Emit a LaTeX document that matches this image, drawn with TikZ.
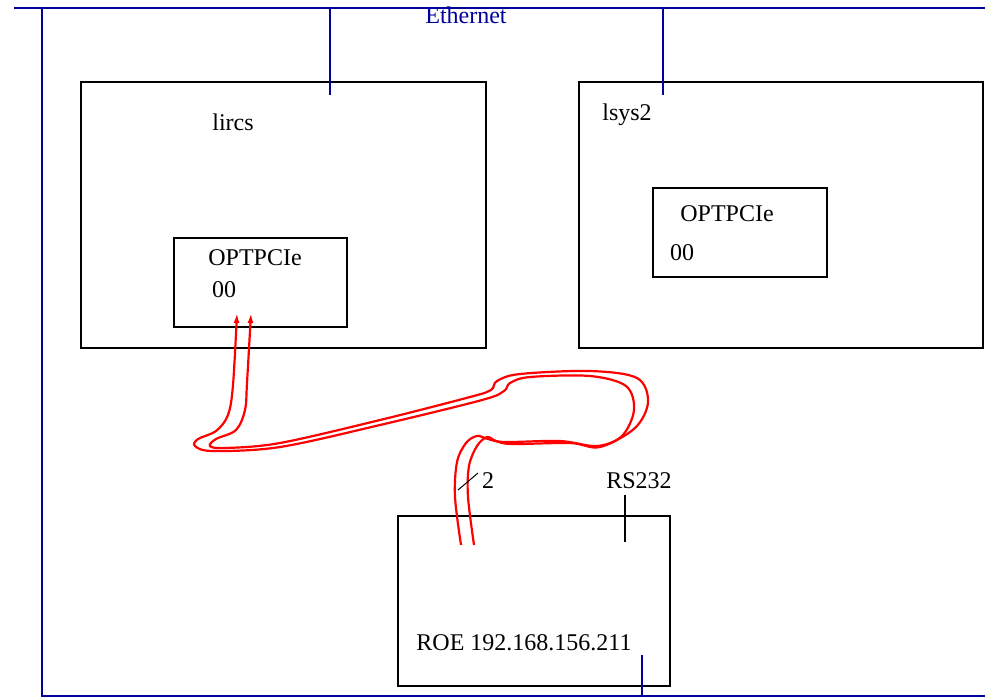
\documentclass[tikz,border=0pt]{standalone}
\usepackage{fontspec}
\setmainfont{Liberation Serif}
\usepackage{tikz}
\usetikzlibrary{arrows.meta,positioning,fit,calc}
\definecolor{ethblue}{HTML}{00009C}
\definecolor{cablered}{HTML}{FF0000}
\tikzset{
  hostbox/.style={
    rectangle, draw=black, line width=1.25pt, inner sep=0pt
  },
  ether/.style={
    draw=ethblue, line width=1.25pt
  },
  cable/.style={
    draw=cablered, line width=1.1pt, -{Latex[length=5pt,width=3pt]}
  },
  lbl/.style={
    font=\fontsize{12}{14}\selectfont, inner sep=0pt, anchor=base
  },
}
\begin{document}
\begin{tikzpicture}[x=0.5pt, y=-0.5pt]
    \useasboundingbox (0,0) rectangle (985,698);
    % hosts
    \node[hostbox, fit={(81,82) (486,348)}] (lircs) {};
    \node[hostbox, fit={(579,82) (983,348)}] (lsys) {};
    \node[hostbox, fit={(174,238) (347,327)}] (cardA) {};
    \node[hostbox, fit={(653,188) (827,277)}] (cardB) {};
    \node[hostbox, fit={(398,516) (670,686)}] (roe) {};
    \node[lbl] at (233,130) {lircs};
    \node[lbl] at (627,120) {lsys2};
    \node[lbl] at (255,265) {OPTPCIe};
    \node[lbl] at (224,297) {00};
    \node[lbl] at (727,221) {OPTPCIe};
    \node[lbl] at (682,260) {00};
    \node[lbl] at (524,650) {ROE 192.168.156.211};
    % ethernet
    \draw[ether] (14,8) -- (985,8);
    \draw[ether] (42,8) -- (42,696) -- (985,696);
    \node[lbl, text=ethblue] at (466,23) {Ethernet};
    \coordinate (tapA) at (330,8);
    \coordinate (tapB) at (663,8);
    \coordinate (tapC) at (642,696);
    \draw[ether] (tapA) -- ($(tapA |- lircs.north)+(0,14)$);
    \draw[ether] (tapB) -- ($(tapB |- lsys.north)+(0,14)$);
    \draw[ether] (tapC) -- ++(0,-41);
    % rs232
    \coordinate (rs) at (625,495);
    \draw[line width=1.25pt] (rs) -- ($(rs |- roe.north)+(0,27)$);
    \node[lbl] at (639,488) {RS232};
    % optical link
    \coordinate (roeA) at (461,545);
    \coordinate (roeB) at (474,545);
    \coordinate (optA) at (237,313);
    \coordinate (optB) at (251,313);
    \draw[cable] plot[smooth, tension=0.55] coordinates {(roeA) (455,497) (457,462) (466,443) (477,436) (488,439)
      (505,442) (560,441) (597,446) (622,436) (634,410) (626,386) (590,376) (530,377) (510,383) (504,391)
      (482,400) (380,425) (280,447) (213,451) (195,446) (198,439) (216,431) (228,415) (233,385) (optA)};
    \draw[cable] plot[smooth, tension=0.55] coordinates {(roeB) (468,497) (469,466) (477,446) (487,437) (496,441)
      (512,444) (570,443) (600,447) (635,428) (648,402) (637,378) (590,371) (520,374) (497,381) (491,390)
      (470,397) (380,420) (280,443) (225,448) (210,446) (216,439) (236,430) (245,410) (247,383) (optB)};
    \draw[line width=0.5pt] (458,490) -- (478,473);
    \node[lbl] at (488,488) {2};
\end{tikzpicture}
\end{document}
